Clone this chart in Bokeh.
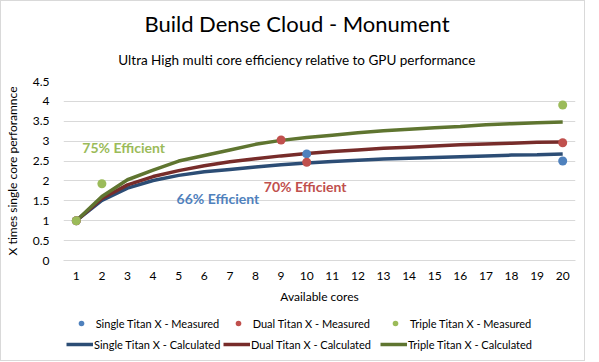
from bokeh.plotting import figure
from bokeh.models import Range1d, FixedTicker, Legend, LegendItem, Label
from bokeh.layouts import column
from bokeh.embed import file_html
from bokeh.resources import INLINE

# ---- data ----
cores = list(range(1, 21))
single_calc = [1.00, 1.51, 1.82, 2.01, 2.14, 2.23, 2.29, 2.35, 2.41, 2.45,
               2.49, 2.52, 2.55, 2.57, 2.59, 2.61, 2.63, 2.65, 2.66, 2.68]
dual_calc = [1.00, 1.56, 1.90, 2.11, 2.26, 2.38, 2.48, 2.56, 2.63, 2.69,
             2.74, 2.78, 2.82, 2.85, 2.88, 2.91, 2.93, 2.95, 2.97, 2.98]
triple_calc = [1.00, 1.61, 2.03, 2.27, 2.50, 2.64, 2.78, 2.92, 3.02, 3.09,
               3.15, 3.21, 3.26, 3.30, 3.34, 3.37, 3.41, 3.44, 3.46, 3.48]

single_meas_x = [1, 10, 20]
single_meas_y = [1.00, 2.68, 2.50]
dual_meas_x = [1, 9, 10, 20]
dual_meas_y = [1.00, 3.03, 2.47, 2.96]
triple_meas_x = [1, 2, 20]
triple_meas_y = [1.00, 1.93, 3.91]

y_ticks = [0, 0.5, 1, 1.5, 2, 2.5, 3, 3.5, 4, 4.5]
y_tick_labels = ["0", "0.5", "1", "1.5", "2", "2.5", "3", "3.5", "4", "4.5"]

series_names = ["Single Titan X", "Dual Titan X", "Triple Titan X"]
title_text = "Build Dense Cloud - Monument"
subtitle_text = "Ultra High multi core efficiency relative to GPU performance"

FONT = "Lato"
C_BLUE, C_RED, C_GREEN = "#4F81BD", "#C0504D", "#9BBB59"
L_BLUE, L_RED, L_GREEN = "#2C4D75", "#772C2A", "#5F7530"
BL, BR = 54, 9  # left / right borders shared by all strips


def strip(height):
    f = figure(width=583, height=height, output_backend="svg", toolbar_location=None,
               x_range=Range1d(0, 1), y_range=Range1d(0, 1), x_axis_type=None,
               y_axis_type=None, min_border_left=BL, min_border_right=BR,
               min_border_top=0, min_border_bottom=0, title=None)
    f.outline_line_color = None
    f.xgrid.grid_line_color = None
    f.ygrid.grid_line_color = None
    f.background_fill_color = "white"
    f.border_fill_color = "white"
    return f


# ---- title strip ----
p0 = strip(73)
p0.add_layout(Label(x=0.456, y=0.70, text=title_text, text_align="center",
                    text_baseline="alphabetic", text_font=FONT, text_font_size="22px",
                    text_color="#000000"))
p0.add_layout(Label(x=0.456, y=0.20, text=subtitle_text, text_align="center",
                    text_baseline="alphabetic", text_font=FONT, text_font_size="13.5px",
                    text_color="#000000"))

# ---- main chart ----
p = figure(width=583, height=234, output_backend="svg", toolbar_location=None,
           x_range=Range1d(0.5, 20.5), y_range=Range1d(0, 4.5),
           min_border_left=BL, min_border_right=BR, min_border_top=7,
           min_border_bottom=48, title=None)
p.outline_line_color = None
p.background_fill_color = "white"
p.border_fill_color = "white"

p.xgrid.grid_line_color = None
p.ygrid.grid_line_color = "#D9D9D9"
p.ygrid.grid_line_width = 1

p.xaxis.ticker = FixedTicker(ticks=cores)
p.yaxis.ticker = FixedTicker(ticks=y_ticks)
p.yaxis.major_label_overrides = {t: l for t, l in zip(y_ticks, y_tick_labels)}
for ax in (p.xaxis[0], p.yaxis[0]):
    ax.major_tick_line_color = None
    ax.minor_tick_line_color = None
    ax.major_label_text_font = FONT
    ax.major_label_text_font_size = "12px"
    ax.major_label_text_color = "#000000"
    ax.axis_label_text_font = FONT
    ax.axis_label_text_font_size = "12px"
    ax.axis_label_text_font_style = "normal"
    ax.axis_label_text_color = "#000000"
p.yaxis.axis_line_color = None
p.xaxis.axis_line_color = "#D9D9D9"
p.xaxis.axis_label = "Available cores"
p.yaxis.axis_label = "X times single core perforamnce"
p.xaxis.major_label_standoff = 5
p.xaxis.axis_label_standoff = 6
p.yaxis.major_label_standoff = 8
p.yaxis.axis_label_standoff = 10

p.line(cores, single_calc, line_color=L_BLUE, line_width=3.5)
p.line(cores, dual_calc, line_color=L_RED, line_width=3.5)
p.line(cores, triple_calc, line_color=L_GREEN, line_width=3.5)

p.scatter(single_meas_x, single_meas_y, size=9, fill_color=C_BLUE, line_color=None)
p.scatter(dual_meas_x, dual_meas_y, size=9, fill_color=C_RED, line_color=None)
p.scatter(triple_meas_x, triple_meas_y, size=9, fill_color=C_GREEN, line_color=None)

for txt, x, y, c in [("75% Efficient", 2.85, 2.84, C_GREEN),
                     ("66% Efficient", 6.53, 1.56, C_BLUE),
                     ("70% Efficient", 9.94, 1.87, C_RED)]:
    p.add_layout(Label(x=x, y=y, text=txt, text_align="center", text_baseline="middle",
                       text_font=FONT, text_font_size="14px", text_font_style="bold",
                       text_color=c))

# ---- legend strip (series drawn off-range; only their legend glyphs show) ----
p2 = strip(52)
p2.y_range = Range1d(100, 101)

meas = [(single_meas_x, single_meas_y), (dual_meas_x, dual_meas_y),
        (triple_meas_x, triple_meas_y)]
calcs = [single_calc, dual_calc, triple_calc]
dot_colors = [C_BLUE, C_RED, C_GREEN]
line_colors = [L_BLUE, L_RED, L_GREEN]
dot_lefts = [9.7, 166.7, 324]
line_lefts = [3, 160, 317]

for name, (mx, my), c, lx in zip(series_names, meas, dot_colors, dot_lefts):
    r = p2.scatter(mx, my, size=7, fill_color=c, line_color=None)
    p2.add_layout(Legend(items=[LegendItem(label=f"{name} - Measured", renderers=[r])],
                         location=(lx, 30), orientation="horizontal",
                         label_text_font=FONT, label_text_font_size="11px",
                         label_text_color="#000000", glyph_width=16, glyph_height=14,
                         label_height=14, label_standoff=7, padding=0, margin=0,
                         border_line_color=None, background_fill_alpha=0))

for name, cy, c, lx in zip(series_names, calcs, line_colors, line_lefts):
    r = p2.line(cores, cy, line_color=c, line_width=3.5)
    p2.add_layout(Legend(items=[LegendItem(label=f"{name} - Calculated", renderers=[r])],
                         location=(lx, 9), orientation="horizontal",
                         label_text_font=FONT, label_text_font_size="11px",
                         label_text_color="#000000", glyph_width=27, glyph_height=14,
                         label_height=14, label_standoff=1, padding=0, margin=0,
                         border_line_color=None, background_fill_alpha=0))

layout = column(p0, p, p2, spacing=0, styles={"border": "1px solid #D9D9D9"})

open("out.html", "w").write(file_html(layout, INLINE))
